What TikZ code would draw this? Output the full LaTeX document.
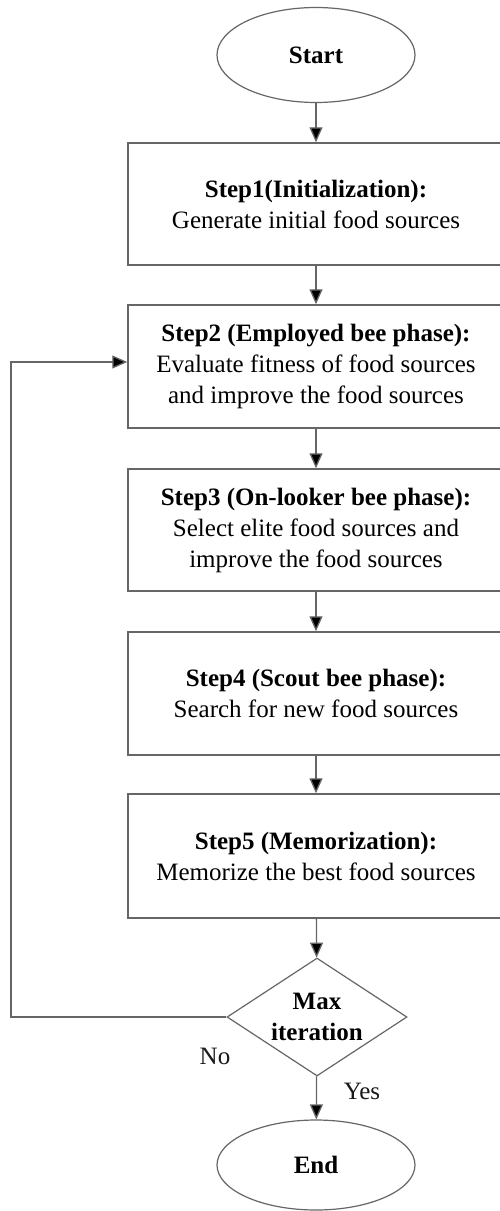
\documentclass[tikz,border=0pt]{standalone}
\usepackage{fontspec}
\setmainfont{Liberation Serif}
\usetikzlibrary{shapes.geometric,arrows.meta}
\begin{document}
\begin{tikzpicture}[x=1pt,y=-1pt,
  txt/.style={font=\fontsize{25}{31}\selectfont, text=black, align=center},
  stepbox/.style={draw=black!60, line width=1.4pt, rectangle, minimum width=376pt, minimum height=122pt, inner sep=0pt, txt},
  term/.style={draw=black!60, line width=1.2pt, ellipse, minimum width=198pt, inner sep=0pt, txt},
  decision/.style={draw=black!60, line width=1.2pt, diamond, minimum width=180pt, minimum height=118pt, inner sep=0pt},
  conn/.style={draw=black!60, line width=1.3pt, -{Triangle[length=15pt,width=13pt,fill=black]}},
  lab/.style={font=\fontsize{25}{31}\selectfont, text=black!90}
]
\useasboundingbox (0,0) rectangle (500,1211);
\clip (0,0) rectangle (500,1211);
\fill[white] (0,0) rectangle (500,1211);

\node[term, minimum height=95pt] (start) at (316,55) {\textbf{Start}};
\node[stepbox] (s1) at (316,204) {\textbf{Step1(Initialization):}\\Generate initial food sources};
\node[stepbox, minimum height=123pt] (s2) at (316,366.5) {\textbf{Step2 (Employed bee phase):}\\Evaluate fitness of food sources\\and improve the food sources};
\node[stepbox] (s3) at (316,530) {\textbf{Step3 (On-looker bee phase):}\\Select elite food sources and\\improve the food sources};
\node[stepbox, minimum height=123pt] (s4) at (316,693.5) {\textbf{Step4 (Scout bee phase):}\\Search for new food sources};
\node[stepbox, minimum height=124pt] (s5) at (316,856) {\textbf{Step5 (Memorization):}\\Memorize the best food sources};
\node[decision] (dec) at (317,1017) {};
\node[txt] (dectext) at (317,1017) {\textbf{Max}\\\textbf{iteration}};
\node[term, minimum height=90pt] (stop) at (316,1165) {\textbf{End}};
\coordinate (loopbot) at (11,1017);
\coordinate (looptop) at (11,362);

\draw[conn] (start) -- (s1);
\draw[conn] (s1) -- (s2);
\draw[conn] (s2) -- (s3);
\draw[conn] (s3) -- (s4);
\draw[conn] (s4) -- (s5);
\draw[conn] (s5) -- (dec);
\draw[conn] (dec) -- (stop);
\draw[conn] (dec.west) -- (loopbot) -- (looptop) -- (s2.west |- looptop);

\node[lab] (nolab) at (215,1056) {No};
\node[lab] (yeslab) at (362,1091) {Yes};
\end{tikzpicture}
\end{document}
